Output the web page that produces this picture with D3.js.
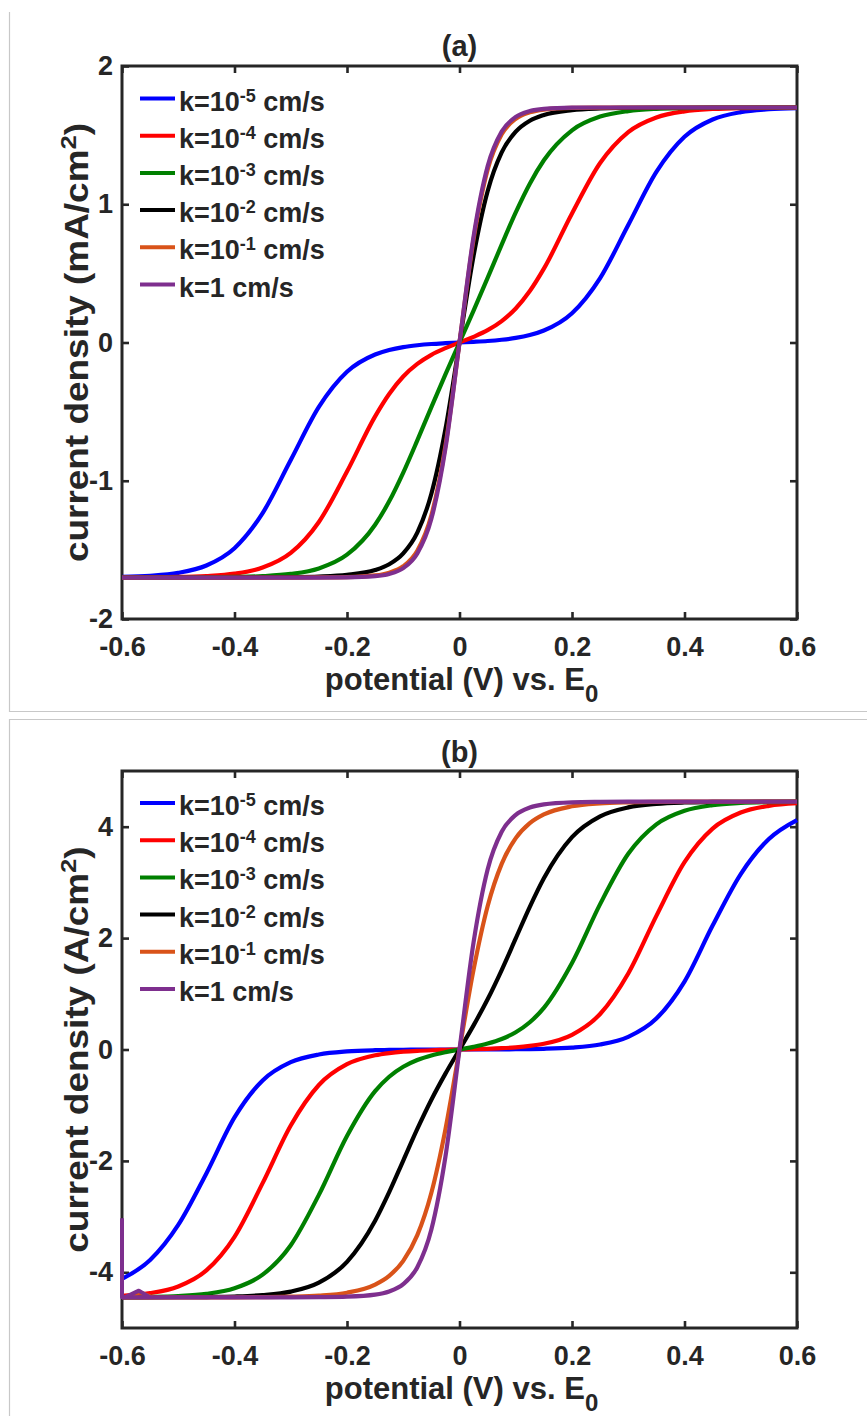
<!DOCTYPE html>
<html><head><meta charset="utf-8">
<script src="https://cdn.jsdelivr.net/npm/d3@7"></script>
<style>
body{margin:0;background:#fff;}
text{font-family:"Liberation Sans",Arial,Helvetica,sans-serif;font-weight:bold;fill:#262626;}
</style>
</head><body>
<svg id="c" width="867" height="1416"></svg>
<script>
// ---------- data ----------
const potential = [-0.6,-0.55,-0.5,-0.45,-0.4,-0.35,-0.3,-0.25,-0.2,-0.15,-0.125,-0.1,-0.075,-0.05,-0.025,0,0.025,0.05,0.075,0.1,0.125,0.15,0.2,0.25,0.3,0.35,0.4,0.45,0.5,0.55,0.6];

const legendBase = ["k=10","k=10","k=10","k=10","k=10","k=1"];
const legendExp  = ["-5","-4","-3","-2","-1",""];
const seriesColors = ["#0000ff","#ff0000","#008000","#000000","#D95319","#7E2F8E"];

const xTickValues = [-0.6,-0.4,-0.2,0,0.2,0.4,0.6];
const xTickLabels = ["-0.6","-0.4","-0.2","0","0.2","0.4","0.6"];
const aTickValues = [-2,-1,0,1,2];
const aTickLabels = ["-2","-1","0","1","2"];
const bTickValues = [-4,-2,0,2,4];
const bTickLabels = ["-4","-2","0","2","4"];

// panel (a): current density, mA/cm^2
const aBlue   = [-1.695,-1.687,-1.666,-1.613,-1.488,-1.234,-0.850,-0.466,-0.212,-0.087,-0.054,-0.033,-0.020,-0.011,-0.005,0,0.005,0.011,0.020,0.033,0.054,0.087,0.212,0.466,0.850,1.234,1.488,1.613,1.666,1.687,1.695];
const aRed    = [-1.699,-1.698,-1.696,-1.689,-1.672,-1.628,-1.522,-1.298,-0.933,-0.534,-0.372,-0.246,-0.155,-0.089,-0.041,0,0.041,0.089,0.155,0.246,0.372,0.534,0.933,1.298,1.522,1.628,1.672,1.689,1.696,1.698,1.699];
const aGreen  = [-1.700,-1.700,-1.700,-1.699,-1.696,-1.690,-1.674,-1.634,-1.535,-1.318,-1.149,-0.941,-0.708,-0.467,-0.230,0,0.230,0.467,0.708,0.941,1.149,1.318,1.535,1.634,1.674,1.690,1.696,1.699,1.700,1.700,1.700];
const aBlack  = [-1.700,-1.700,-1.700,-1.700,-1.700,-1.699,-1.697,-1.693,-1.681,-1.646,-1.604,-1.525,-1.375,-1.094,-0.627,0,0.627,1.094,1.375,1.525,1.604,1.646,1.681,1.693,1.697,1.699,1.700,1.700,1.700,1.700,1.700];
const aOrange = [-1.700,-1.700,-1.700,-1.700,-1.700,-1.700,-1.700,-1.699,-1.697,-1.685,-1.665,-1.618,-1.506,-1.250,-0.747,0,0.747,1.250,1.506,1.618,1.665,1.685,1.697,1.699,1.700,1.700,1.700,1.700,1.700,1.700,1.700];
const aPurple = [-1.700,-1.700,-1.700,-1.700,-1.700,-1.700,-1.700,-1.700,-1.699,-1.690,-1.674,-1.632,-1.526,-1.275,-0.767,0,0.767,1.275,1.526,1.632,1.674,1.690,1.699,1.700,1.700,1.700,1.700,1.700,1.700,1.700,1.700];

// panel (b): current density, A/cm^2
const bBlue   = [-4.120,-3.780,-3.150,-2.225,-1.220,-0.556,-0.228,-0.089,-0.034,-0.013,-0.008,-0.005,-0.003,-0.002,-0.001,0,0.001,0.002,0.003,0.005,0.008,0.013,0.034,0.089,0.228,0.556,1.220,2.225,3.150,3.780,4.120];
const bRed    = [-4.421,-4.374,-4.254,-3.966,-3.363,-2.399,-1.364,-0.637,-0.264,-0.103,-0.064,-0.039,-0.023,-0.013,-0.006,0,0.006,0.013,0.023,0.039,0.064,0.103,0.264,0.637,1.364,2.399,3.363,3.966,4.254,4.374,4.421];
const bGreen  = [-4.446,-4.441,-4.426,-4.387,-4.287,-4.043,-3.514,-2.610,-1.552,-0.747,-0.489,-0.310,-0.189,-0.107,-0.048,0,0.048,0.107,0.189,0.310,0.489,0.747,1.552,2.610,3.514,4.043,4.287,4.387,4.426,4.441,4.446];
const bBlack  = [-4.450,-4.450,-4.448,-4.444,-4.435,-4.410,-4.347,-4.186,-3.812,-3.074,-2.561,-1.994,-1.427,-0.902,-0.433,0,0.433,0.902,1.427,1.994,2.561,3.074,3.812,4.186,4.347,4.410,4.435,4.444,4.448,4.450,4.450];
const bOrange = [-4.450,-4.450,-4.450,-4.450,-4.450,-4.446,-4.438,-4.419,-4.366,-4.220,-4.063,-3.794,-3.333,-2.572,-1.433,0,1.433,2.572,3.333,3.794,4.063,4.220,4.366,4.419,4.438,4.446,4.450,4.450,4.450,4.450,4.450];
const bPurple = [-4.450,-4.450,-4.450,-4.450,-4.450,-4.450,-4.450,-4.446,-4.437,-4.401,-4.344,-4.213,-3.909,-3.231,-1.923,0,1.923,3.231,3.909,4.213,4.344,4.401,4.437,4.446,4.450,4.450,4.450,4.450,4.450,4.450,4.450];

// start-of-sweep glitch at the left edge of panel (b)
const bPurpleStartX = [-0.6,-0.6,-0.595,-0.57,-0.55];
const bPurpleStartY = [-3.03,-4.45,-4.45,-4.33,-4.45];
const bOrangeStartX = [-0.59,-0.568,-0.545];
const bOrangeStartY = [-4.45,-4.36,-4.45];

// ---------- drawing ----------
const svg = d3.select("#c");
svg.append("rect").attr("width",867).attr("height",1416).attr("fill","#fff");

// outer panel frames
const frame = svg.append("g").attr("stroke","#c8c8c8").attr("stroke-width",1.2).attr("fill","none");
frame.append("path").attr("d","M9.5,12V711.5H867");
frame.append("path").attr("d","M867,719.5H9.5V1416");

const AX = "#262626";
const panels = [
  {top:66, bottom:619, domain:[-2,2], ticks:aTickValues, tlabels:aTickLabels, unit:"mA/cm", title:"(a)", titleY:56,
   series:[aBlue,aRed,aGreen,aBlack,aOrange,aPurple], legendY:98.5},
  {top:771, bottom:1328, domain:[-5,5], ticks:bTickValues, tlabels:bTickLabels, unit:"A/cm", title:"(b)", titleY:762,
   series:[bBlue,bRed,bGreen,bBlack,bOrange,bPurple], legendY:803, glitch:true}
];
const L = 122, R = 797;

panels.forEach(p => {
  const g = svg.append("g");
  const x = d3.scaleLinear().domain([-0.6,0.6]).range([L,R]);
  const y = d3.scaleLinear().domain(p.domain).range([p.bottom,p.top]);

  const fmtX = d => xTickLabels[xTickValues.indexOf(d)];
  const fmtY = d => p.tlabels[p.ticks.indexOf(d)];
  const styleAxis = sel => {
    sel.select(".domain").remove();
    sel.selectAll(".tick line").attr("stroke",AX).attr("stroke-width",2.6);
    sel.selectAll(".tick text").attr("fill",AX).style("font-size","27px").style("font-family",'"Liberation Sans",Arial,sans-serif').style("font-weight","bold");
  };
  g.append("g").attr("transform",`translate(0,${p.bottom})`)
    .call(d3.axisBottom(x).tickValues(xTickValues).tickFormat(fmtX).tickSize(-7).tickPadding(18)).call(styleAxis);
  g.append("g").attr("transform",`translate(0,${p.top})`)
    .call(d3.axisTop(x).tickValues(xTickValues).tickFormat("").tickSize(-7)).call(styleAxis);
  g.append("g").attr("transform",`translate(${L},0)`)
    .call(d3.axisLeft(y).tickValues(p.ticks).tickFormat(fmtY).tickSize(-7).tickPadding(9)).call(styleAxis);
  g.append("g").attr("transform",`translate(${R},0)`)
    .call(d3.axisRight(y).tickValues(p.ticks).tickFormat("").tickSize(-7)).call(styleAxis);

  g.append("rect").attr("x",L).attr("y",p.top).attr("width",R-L).attr("height",p.bottom-p.top)
    .attr("fill","none").attr("stroke",AX).attr("stroke-width",3);

  // curves
  const line = d3.line().x((d,i)=>x(potential[i])).y(d=>y(d)).curve(d3.curveMonotoneX);
  const lin = d3.line().x(d=>x(d[0])).y(d=>y(d[1]));
  p.series.forEach((s,i) => {
    if (p.glitch && i===4) {
      g.append("path").attr("d",lin(bOrangeStartX.map((v,j)=>[v,bOrangeStartY[j]])))
        .attr("fill","none").attr("stroke",seriesColors[4]).attr("stroke-width",4).attr("stroke-linejoin","round");
    }
    g.append("path").attr("d",line(s)).attr("fill","none").attr("stroke",seriesColors[i])
      .attr("stroke-width",4.2).attr("stroke-linejoin","round");
    if (p.glitch && i===5) {
      g.append("path").attr("d",lin(bPurpleStartX.map((v,j)=>[v,bPurpleStartY[j]])))
        .attr("fill","none").attr("stroke",seriesColors[5]).attr("stroke-width",4).attr("stroke-linejoin","round");
    }
  });

  // legend
  const lg = g.append("g");
  legendBase.forEach((b,i) => {
    const ly = p.legendY + i*37.2;
    lg.append("line").attr("x1",140).attr("x2",175).attr("y1",ly).attr("y2",ly)
      .attr("stroke",seriesColors[i]).attr("stroke-width",4);
    const t = lg.append("text").attr("x",179).attr("y",ly+12).style("font-size","27px");
    t.append("tspan").text(b);
    if (legendExp[i]) {
      t.append("tspan").attr("dy",-9).style("font-size","18px").text(legendExp[i]);
      t.append("tspan").attr("dy",9).text(" cm/s");
    } else {
      t.append("tspan").text(" cm/s");
    }
  });

  // title
  g.append("text").attr("x",(L+R)/2).attr("y",p.titleY).attr("text-anchor","middle").style("font-size","29px").text(p.title);

  // x label
  const xl = g.append("text").attr("x",(L+R)/2+2).attr("y",p.bottom+71).attr("text-anchor","middle").style("font-size","31px");
  xl.append("tspan").text("potential (V) vs. E");
  xl.append("tspan").attr("dy",12).style("font-size","24px").text("0");

  // y label
  const yl = g.append("text").attr("transform",`translate(88,${(p.top+p.bottom)/2}) rotate(-90) scale(1.12,1)`)
    .attr("text-anchor","middle").style("font-size","33px");
  yl.append("tspan").text("current density (" + p.unit);
  yl.append("tspan").attr("dy",-12).style("font-size","23px").text("2");
  yl.append("tspan").attr("dy",12).text(")");
});
</script>
</body></html>
